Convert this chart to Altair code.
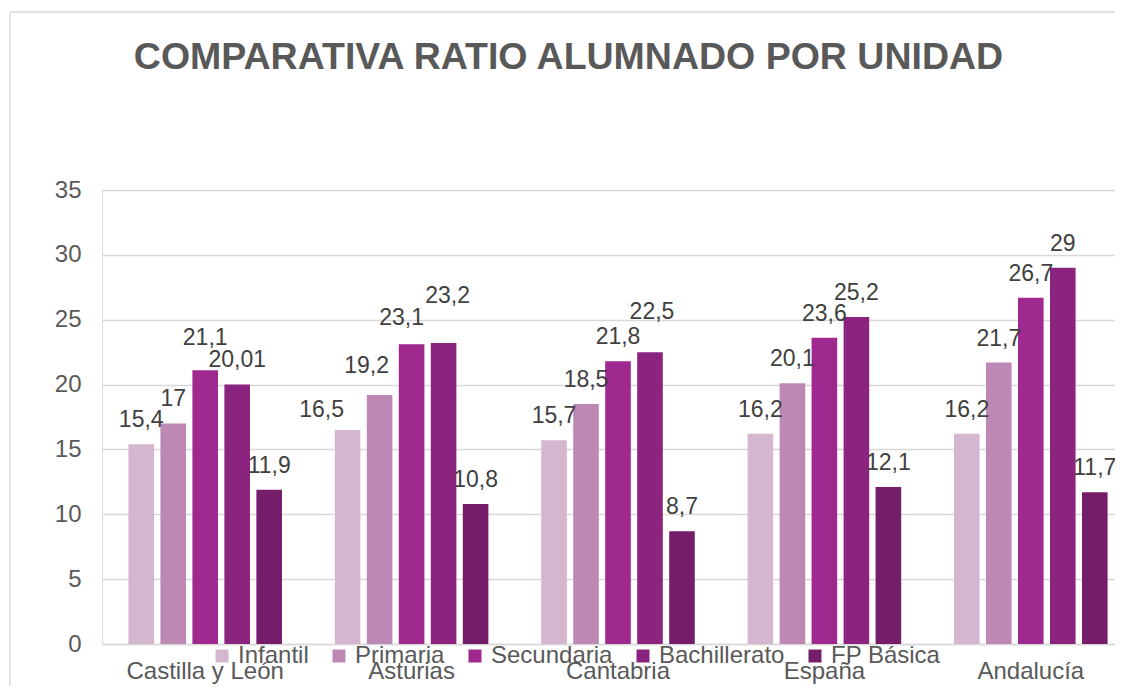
import altair as alt
import pandas as pd

regions = ["Castilla y León", "Asturias", "Cantabria", "España", "Andalucía"]
levels = ["Infantil", "Primaria", "Secundaria", "Bachillerato", "FP Básica"]
infantil = [15.4, 16.5, 15.7, 16.2, 16.2]
primaria = [17, 19.2, 18.5, 20.1, 21.7]
secundaria = [21.1, 23.1, 21.8, 23.6, 26.7]
bachillerato = [20.01, 23.2, 22.5, 25.2, 29]
fp_basica = [11.9, 10.8, 8.7, 12.1, 11.7]
colors = ["#D4B7CE", "#BE88B4", "#A0298F", "#8B247E", "#761D6A"]
y_ticks = [0, 5, 10, 15, 20, 25, 30, 35]
title_text = "COMPARATIVA RATIO ALUMNADO POR UNIDAD"

# labels that were moved by hand in the original chart: (region, level) -> (dx, extra dy) in px
label_moves = {
    ("Castilla y León", "Secundaria"): (0, -8),
    ("Asturias", "Infantil"): (-26, 4),
    ("Asturias", "Primaria"): (-13, -5),
    ("Asturias", "Secundaria"): (-10, -2),
    ("Asturias", "Bachillerato"): (4, -23),
    ("Cantabria", "Bachillerato"): (2, -16),
}

rows = []
for lvl, vals in zip(levels, [infantil, primaria, secundaria, bachillerato, fp_basica]):
    for r, v in zip(regions, vals):
        rows.append({"region": r, "nivel": lvl, "valor": v,
                     "etiqueta": f"{v:g}".replace(".", ","),
                     "movida": (r, lvl) in label_moves})
df = pd.DataFrame(rows)

FONT = "Liberation Sans"
GRID = "#D9D9D9"
TXT = "#595959"
LBL = "#404040"
BASE_DY = -17

x = alt.X("region:N", sort=regions, title=None,
          scale=alt.Scale(range=[0, 1032], paddingInner=0.225, paddingOuter=0.1125),
          axis=alt.Axis(labelAngle=0, labelFontSize=24, labelColor=TXT, labelFont=FONT,
                        labelPadding=15, ticks=False, domainColor=GRID, domainWidth=1.5,
                        grid=False))
xo = alt.XOffset("nivel:N", sort=levels,
                 scale=alt.Scale(paddingInner=0.2, paddingOuter=0.1))
y = alt.Y("valor:Q", title=None, scale=alt.Scale(domain=[0, 35], nice=False),
          axis=alt.Axis(values=y_ticks, labelFontSize=24, labelColor=TXT, labelFont=FONT,
                        labelPadding=21, ticks=False, domain=False, gridColor=GRID,
                        gridWidth=1.3))
color = alt.Color("nivel:N", sort=levels,
                  scale=alt.Scale(domain=levels, range=colors),
                  legend=alt.Legend(title=None, orient="none", legendX=108, legendY=454,
                                    direction="horizontal", symbolType="square",
                                    symbolSize=169, symbolStrokeWidth=0,
                                    labelFontSize=24, labelFont=FONT, labelColor=TXT,
                                    labelOffset=4, columnPadding=18, padding=0))

base = alt.Chart(df)
bars = base.mark_bar().encode(x=x, xOffset=xo, y=y, color=color)
labels = base.mark_text(fontSize=23, font=FONT, color=LBL, dy=BASE_DY,
                        baseline="alphabetic").encode(
    x=x, xOffset=xo, y=y, text="etiqueta:N").transform_filter("!datum.movida")

moved_layers = []
for (r, lvl), (ddx, ddy) in label_moves.items():
    moved_layers.append(
        base.mark_text(fontSize=23, font=FONT, color=LBL, dx=ddx, dy=BASE_DY + ddy,
                       baseline="alphabetic").encode(
            x=x, xOffset=xo, y=y, text="etiqueta:N").transform_filter(
            alt.FieldEqualPredicate(field="region", equal=r)).transform_filter(
            alt.FieldEqualPredicate(field="nivel", equal=lvl)))

border = alt.Chart(alt.Data(values=[{}])).mark_rect(
    fillOpacity=0, stroke=GRID, strokeWidth=1.3).encode(
    x=alt.value(-92), x2=alt.value(1300), y=alt.value(-178), y2=alt.value(800))

chart = alt.layer(border, bars, *moved_layers, labels).properties(
    width=1013, height=454,
    title=alt.TitleParams(title_text, font=FONT, fontSize=37.5, fontWeight="bold",
                          color=TXT, anchor="middle", frame="group", dx=-40, offset=-65),
    autosize=alt.AutoSizeParams(type="none"),
    padding={"left": 94, "top": 182, "right": 0, "bottom": 44},
).configure_view(stroke=None).configure(background="white")

chart.save("out.html", embed_options={"renderer": "svg", "actions": False})
